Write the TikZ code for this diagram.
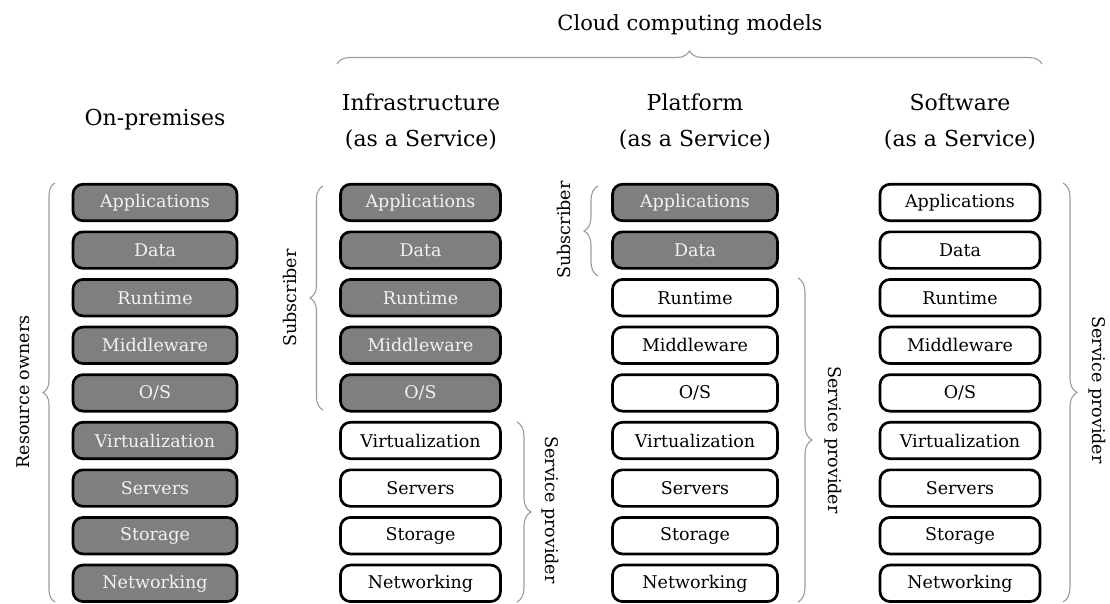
\documentclass[tikz,border=0pt]{standalone}
\usepackage{fontspec}
\setmainfont{DejaVu Serif}
\usetikzlibrary{decorations.pathreplacing}
\definecolor{boxgray}{RGB}{127,127,127}
\definecolor{boxtext}{RGB}{242,242,242}
\definecolor{bracegray}{RGB}{155,155,155}
\begin{document}
\begin{tikzpicture}[x=1pt,y=-1pt,
  layer/.style={draw=black, line width=2.7pt, rounded corners=10pt,
    minimum height=36.5pt, inner sep=0pt, font=\fontsize{17.5}{21}\selectfont},
  ownbox/.style={layer, fill=boxgray, text=boxtext},
  freebox/.style={layer, fill=white, text=black},
  head/.style={font=\fontsize{22}{36}\selectfont, align=center},
  side/.style={font=\fontsize{17.5}{21}\selectfont},
  bracket/.style={draw=bracegray, line width=1.1pt, decorate,
    decoration={brace, amplitude=#1}},
  bracket/.default=12pt,
]
\useasboundingbox (0,0) rectangle (1110,603);

% column headings
\node[head] (hop)   at (155,120) {On-premises};
\node[head] (hiaas) at (421,122) {Infrastructure\\(as a Service)};
\node[head] (hpaas) at (695,122) {Platform\\(as a Service)};
\node[head] (hsaas) at (960,122) {Software\\(as a Service)};
\node[head, font=\fontsize{21}{26}\selectfont] (hcloud) at (690,25) {Cloud computing models};

% the nine layers of each stack; dark layers are run by their owner
\foreach \lab [count=\i] in {Applications,Data,Runtime,Middleware,{O/S},Virtualization,Servers,Storage,Networking} {
  \node[ownbox, minimum width=164pt] (op\i) at (155,202.5+47.6*\i-47.6) {\lab};
  \ifnum\i<6
    \node[ownbox, minimum width=160pt] (ia\i) at (420.5,202.5+47.6*\i-47.6) {\lab};
  \else
    \node[freebox, minimum width=160pt] (ia\i) at (420.5,202.5+47.6*\i-47.6) {\lab};
  \fi
  \ifnum\i<3
    \node[ownbox, minimum width=165pt] (pa\i) at (695,202.5+47.6*\i-47.6) {\lab};
  \else
    \node[freebox, minimum width=165pt] (pa\i) at (695,202.5+47.6*\i-47.6) {\lab};
  \fi
  \node[freebox, minimum width=160pt] (sa\i) at (960,202.5+47.6*\i-47.6) {\lab};
}

% brace ends
\coordinate (cl-l) at (337,64);   \coordinate (cl-r) at (1042,64);
\coordinate (ro-b) at (55,602);   \coordinate (ro-t) at (55,183);
\coordinate (isub-b) at (323,410); \coordinate (isub-t) at (323,186);
\coordinate (isp-t) at (517,422); \coordinate (isp-b) at (517,602);
\coordinate (psub-b) at (598,276); \coordinate (psub-t) at (598,186);
\coordinate (psp-t) at (798,278); \coordinate (psp-b) at (798,602);
\coordinate (ssp-t) at (1063,183); \coordinate (ssp-b) at (1063,602);

% braces
\draw[bracket=13pt] (cl-l) -- (cl-r);
\draw[bracket] (ro-b) -- (ro-t);
\draw[bracket=13pt] (isub-b) -- (isub-t);
\draw[bracket=14pt] (isp-t) -- (isp-b);
\draw[bracket=14pt] (psub-b) -- (psub-t);
\draw[bracket=14pt] (psp-t) -- (psp-b);
\draw[bracket=14pt] (ssp-t) -- (ssp-b);

% brace labels
\node[side, rotate=90]  (lro)   at (23,392)   {Resource owners};
\node[side, rotate=90]  (lisub) at (290,298)  {Subscriber};
\node[side, rotate=-90] (lisp)  at (550,510)  {Service provider};
\node[side, rotate=90]  (lpsub) at (564,230)  {Subscriber};
\node[side, rotate=-90] (lpsp)  at (833,440)  {Service provider};
\node[side, rotate=-90] (lssp)  at (1097,390) {Service provider};
\end{tikzpicture}
\end{document}
